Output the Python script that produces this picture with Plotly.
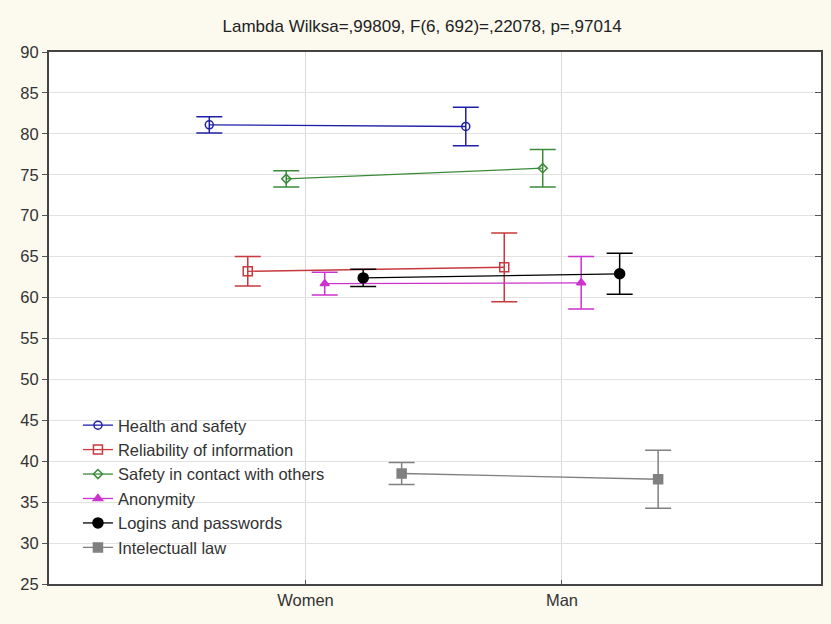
import plotly.graph_objects as go

title_text = "Lambda Wilksa=,99809, F(6, 692)=,22078, p=,97014"
categories = ["Women", "Man"]
series_names = ["Health and safety", "Reliability of information", "Safety in contact with others",
                "Anonymity", "Logins and passwords", "Intelectuall law"]

health_mean = [81.1, 80.9]
health_err = [1.0, 2.35]
reliab_mean = [63.2, 63.7]
reliab_err = [1.8, 4.2]
contact_mean = [74.5, 75.8]
contact_err = [1.0, 2.3]
anon_mean = [61.7, 61.8]
anon_err = [1.4, 3.2]
logins_mean = [62.4, 62.9]
logins_err = [1.05, 2.5]
law_mean = [38.5, 37.8]
law_err = [1.35, 3.55]

y_ticks = list(range(25, 91, 5))

means = [health_mean, reliab_mean, contact_mean, anon_mean, logins_mean, law_mean]
errs = [health_err, reliab_err, contact_err, anon_err, logins_err, law_err]
colors = ["#1f1fa8", "#c8383c", "#3a8a3a", "#cc33cc", "#000000", "#808080"]
symbols = ["circle-open", "square-open", "diamond-open", "triangle-up", "circle", "square"]
msizes = [8, 9, 7, 8, 10, 9]

n = len(series_names)
step = 0.15
fig = go.Figure()
for i in range(n):
    off = (i - (n - 1) / 2) * step
    xs = [j + off for j in range(len(categories))]
    fig.add_trace(go.Scatter(
        x=xs, y=means[i], name=series_names[i], mode="lines+markers",
        line=dict(color=colors[i], width=1.3),
        marker=dict(symbol=symbols[i], size=msizes[i], color=colors[i],
                    line=dict(color=colors[i], width=1.5)),
        error_y=dict(type="data", array=errs[i], visible=True, color=colors[i],
                     thickness=1.5, width=13),
    ))

fig.add_trace(go.Scatter(x=[None], y=[None], yaxis="y2", showlegend=False))

fig.update_layout(
    width=831, height=624,
    margin=dict(l=49, r=8, t=52, b=40),
    paper_bgcolor="#fcf9ef", plot_bgcolor="white",
    font=dict(family="Liberation Sans, Arial, sans-serif", color="#333"),
    title=dict(text=title_text, x=0.508, xanchor="center", y=0.958, yanchor="middle",
               font=dict(size=17, color="#222")),
    showlegend=True,
    legend=dict(x=0.0375, y=0.331, xanchor="left", yanchor="top",
                bgcolor="rgba(0,0,0,0)", font=dict(size=16.5, color="#333"),
                tracegroupgap=0, itemwidth=30),
    xaxis=dict(range=[-1.0, 2.01], tickvals=[0, 1], ticktext=categories,
               showgrid=True, gridcolor="#d8d8d8", gridwidth=1, zeroline=False,
               ticks="inside", ticklen=4, tickcolor="#555",
               showline=True, linecolor="#444", linewidth=2, mirror=True,
               tickfont=dict(size=16.5, color="#333")),
    yaxis=dict(range=[25, 90], tickvals=y_ticks, showgrid=True, gridcolor="#e2e2e2",
               gridwidth=1, zeroline=False, ticks="outside", ticklen=5, tickcolor="#555",
               showline=True, linecolor="#444", linewidth=2, mirror=True,
               tickfont=dict(size=16.5, color="#333")),
    yaxis2=dict(range=[25, 90], tickvals=y_ticks, overlaying="y", side="right",
                ticks="inside", ticklen=6, tickcolor="#555", showticklabels=False,
                showgrid=False, zeroline=False, showline=False),
)

fig.write_html("out.html", config={"displayModeBar": False},
               post_script="document.body.style.margin='0';")
